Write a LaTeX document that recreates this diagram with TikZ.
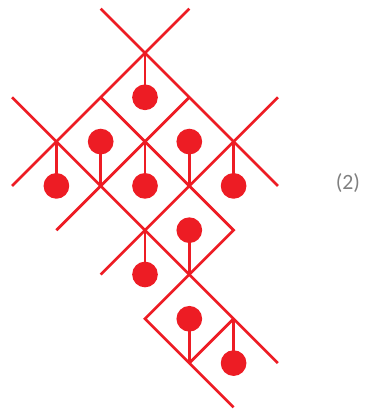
\documentclass[tikz,border=0pt]{standalone}
\usepackage{fontspec}
\setsansfont{Carlito}
\usepackage{xcolor}
\usepackage{tikz}
\definecolor{knotred}{RGB}{237,28,36}

\begin{document}
\begin{tikzpicture}[
    x=1cm, y=1cm,
    lattice/.style={draw=knotred, line width=1.75pt},
    stem/.style={draw=knotred, line width=1.75pt},
    bead/.style={circle, fill=knotred, minimum size=0.58cm, inner sep=0pt},
    lbl/.style={font=\sffamily\fontsize{14}{16}\selectfont, text=black!50}
]
\useasboundingbox (-3.273,-8.104) rectangle (4.944,1.196);

% --- Lattice corners ---
\coordinate (nw1) at (-1,1);  \coordinate (se1) at (3,-3);
\coordinate (ne1) at (1,1);   \coordinate (sw1) at (-3,-3);
\coordinate (nw2) at (-3,-1); \coordinate (se2) at (3,-7);
\coordinate (ne2) at (3,-1);  \coordinate (sw2) at (-1,-5);
\coordinate (nw3) at (-1,-1); \coordinate (se3) at (2,-4);
\coordinate (ne3) at (1,-1);  \coordinate (sw3) at (-2,-4);
\coordinate (sw4) at (0,-6);  \coordinate (se4) at (2,-8);
\coordinate (ne5) at (2,-6);  \coordinate (sw5) at (1,-7);

% --- Lattice lines ---
\draw[lattice] (nw1) -- (se1);
\draw[lattice] (ne1) -- (sw1);
\draw[lattice] (nw2) -- (se2);
\draw[lattice] (ne2) -- (sw2);
\draw[lattice] (nw3) -- (se3) -- (sw4) -- (se4);
\draw[lattice] (ne3) -- (sw3);
\draw[lattice] (ne5) -- (sw5);

% --- Hanging beads (stem up) ---
\foreach \u/\v [count=\i] in {0/-1, -2/-3, 0/-3, 2/-3, 0/-5, 2/-7}{
    \coordinate (top\i) at (\u,\v+1);
    \node[bead] (hang\i) at (\u,\v) {};
    \draw[stem] (top\i) -- (hang\i.center);
}

% --- Standing beads (stem down) ---
\foreach \u/\v [count=\i] in {-1/-2, 1/-2, 1/-4, 1/-6}{
    \coordinate (foot\i) at (\u,\v-1);
    \node[bead] (stand\i) at (\u,\v) {};
    \draw[stem] (stand\i.center) -- (foot\i);
}

% --- Equation number ---
\node[lbl] (eqno) at (4.58,-2.93) {(2)};

\end{tikzpicture}
\end{document}
